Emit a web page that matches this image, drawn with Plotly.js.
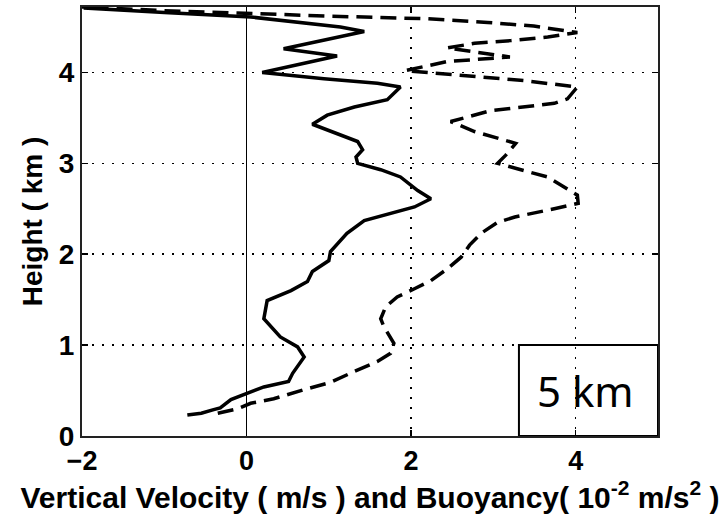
<!DOCTYPE html>
<html>
<head>
<meta charset="utf-8">
<script src="https://cdn.plot.ly/plotly-3.0.1.min.js"></script>
<style>
  html, body { margin: 0; padding: 0; background: #fff; }
  #chart { width: 724px; height: 523px; }
</style>
</head>
<body>
<div id="chart"></div>
<script>
// Vertical velocity (m/s) profile, bottom to top
const velocityX = [-0.72, -0.55, -0.40, -0.32, -0.19, 0.00, 0.21, 0.51, 0.56, 0.70, 0.62, 0.41, 0.21, 0.25, 0.54, 0.74, 0.80, 1.00, 1.02, 1.22, 1.43, 2.04, 2.24, 2.08, 1.87, 1.63, 1.35, 1.33, 1.41, 1.35, 1.02, 0.80, 0.98, 1.31, 1.71, 1.87, 1.59, 0.94, 0.19, 1.10, 0.45, 1.43, 1.14, 0.05, -1.00, -1.98];
const velocityH = [0.23, 0.25, 0.29, 0.31, 0.40, 0.47, 0.54, 0.60, 0.69, 0.87, 0.98, 1.09, 1.29, 1.49, 1.60, 1.70, 1.81, 1.93, 2.03, 2.23, 2.37, 2.52, 2.61, 2.70, 2.85, 2.93, 3.00, 3.07, 3.15, 3.24, 3.35, 3.43, 3.53, 3.62, 3.70, 3.84, 3.88, 3.93, 4.00, 4.18, 4.26, 4.45, 4.50, 4.61, 4.66, 4.71];

// Buoyancy (1e-2 m/s^2) profile, bottom to top
const buoyancyX = [-0.35, -0.11, 0.05, 0.33, 0.70, 1.02, 1.31, 1.59, 1.75, 1.79, 1.67, 1.63, 1.69, 1.83, 2.04, 2.24, 2.44, 2.61, 2.71, 2.85, 3.05, 3.26, 3.74, 4.03, 4.02, 3.66, 3.29, 3.05, 3.15, 3.27, 2.77, 2.48, 2.97, 3.74, 3.90, 4.02, 3.37, 2.57, 1.93, 2.44, 3.20, 2.44, 2.77, 3.21, 3.66, 4.02, 3.49, 2.93, 2.20, 1.00, 0.00, -1.00, -2.00];
const buoyancyH = [0.25, 0.30, 0.36, 0.41, 0.51, 0.59, 0.71, 0.82, 0.91, 1.02, 1.20, 1.29, 1.42, 1.53, 1.62, 1.71, 1.84, 1.97, 2.10, 2.23, 2.35, 2.41, 2.50, 2.56, 2.65, 2.85, 2.94, 3.00, 3.09, 3.22, 3.35, 3.46, 3.58, 3.66, 3.71, 3.84, 3.91, 3.97, 4.02, 4.12, 4.17, 4.27, 4.32, 4.35, 4.39, 4.44, 4.51, 4.55, 4.59, 4.62, 4.65, 4.68, 4.72];

const xTickVals = [-2, 0, 2, 4];
const xTickText = ['\u22122', '0', '2', '4'];
const yTickVals = [0, 1, 2, 3, 4];
const yTickText = ['0', '1', '2', '3', '4'];

const boxLabel = '5 km';

const boldFont = 'Liberation Sans Narrow, Arial Narrow, Liberation Sans, Arial, sans-serif';

const traces = [
  {
    x: velocityX, y: velocityH, type: 'scatter', mode: 'lines',
    line: { color: '#000', width: 3.5, shape: 'linear' },
    showlegend: false, hoverinfo: 'skip'
  },
  {
    x: buoyancyX, y: buoyancyH, type: 'scatter', mode: 'lines',
    line: { color: '#000', width: 3.5, dash: '16px,8px' },
    showlegend: false, hoverinfo: 'skip'
  }
];

const layout = {
  width: 724, height: 523,
  margin: { l: 82, r: 66, t: 7, b: 87, pad: 0 },
  paper_bgcolor: '#fff', plot_bgcolor: '#fff',
  showlegend: false,
  xaxis: {
    range: [-2, 5], tickvals: xTickVals, ticktext: xTickText,
    ticks: 'inside', ticklen: 6, tickwidth: 1.5, tickcolor: '#000',
    showline: true, linecolor: '#222', linewidth: 2, mirror: 'ticks',
    showgrid: true, gridcolor: '#000', gridwidth: 1.5, griddash: '2px,8px',
    zeroline: true, zerolinecolor: '#000', zerolinewidth: 1.5,
    tickfont: { family: boldFont, size: 27, color: '#000', weight: 'bold' },
    title: {
      text: 'Vertical Velocity ( m/s ) and Buoyancy( 10<sup>-2</sup> m/s<sup>2</sup> )',
      font: { family: boldFont, size: 30, color: '#000', weight: 'bold' },
      standoff: 6
    },
    automargin: false, fixedrange: true
  },
  yaxis: {
    range: [0, 4.72], tickvals: yTickVals, ticktext: yTickText,
    ticks: 'inside', ticklen: 6, tickwidth: 1.5, tickcolor: '#000',
    showline: true, linecolor: '#222', linewidth: 2, mirror: 'ticks',
    showgrid: true, gridcolor: '#000', gridwidth: 1.5, griddash: '2px,8px',
    zeroline: false,
    tickfont: { family: boldFont, size: 28, color: '#000', weight: 'bold' },
    title: {
      text: 'Height ( km )',
      font: { family: boldFont, size: 28, color: '#000', weight: 'bold' },
      standoff: 8
    },
    automargin: false, fixedrange: true
  },
  shapes: [
    {
      type: 'rect', xref: 'x', yref: 'y', x0: 3.31, x1: 5, y0: 0, y1: 1,
      line: { color: '#000', width: 2 }, fillcolor: 'rgba(0,0,0,0)', layer: 'above'
    }
  ],
  annotations: [
    {
      xref: 'x', yref: 'y', x: 4.12, y: 0.5, text: boxLabel, showarrow: false,
      font: { family: 'Noto Sans, Open Sans, sans-serif', size: 42, color: '#000' }
    }
  ]
};

Plotly.newPlot('chart', traces, layout, { displayModeBar: false, staticPlot: true });
</script>
</body>
</html>
